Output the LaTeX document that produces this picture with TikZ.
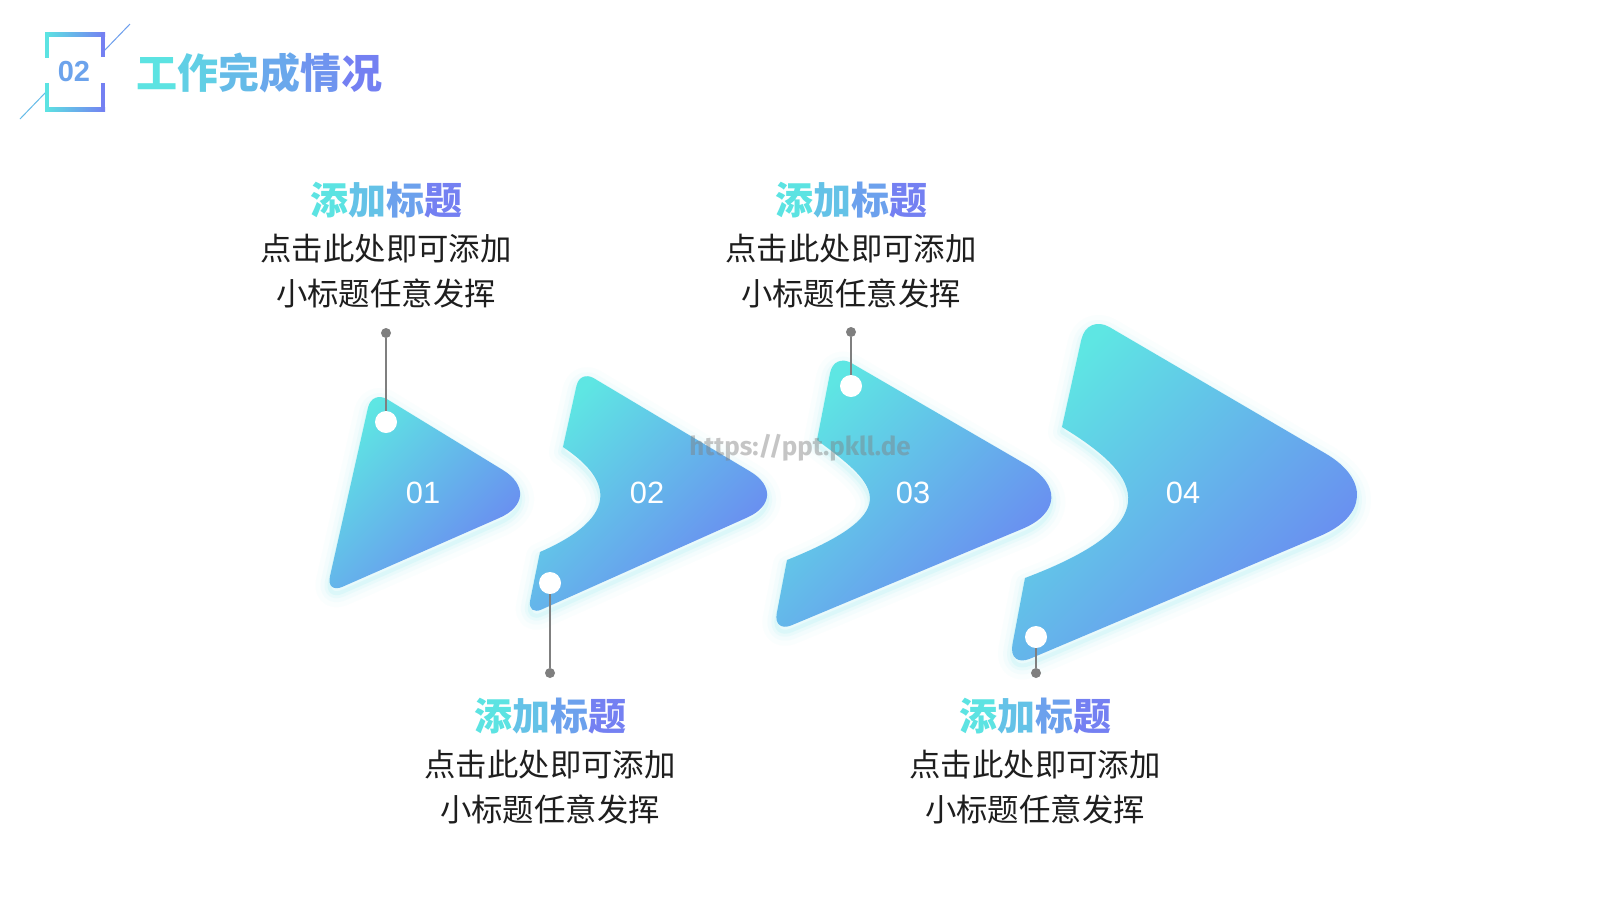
\documentclass[tikz,border=0pt]{standalone}
\usepackage{fontspec}
\setmainfont{Liberation Sans}
\newfontfamily\cjk{Noto Sans CJK SC}
\newfontfamily\wmfont{Fira Sans}
\definecolor{cy}{HTML}{5CE3E2}
\definecolor{pu}{HTML}{7480F2}
\definecolor{shA}{HTML}{5EE6E3}
\definecolor{shB}{HTML}{6C7DF3}
\definecolor{glowc}{HTML}{7EE8EC}
\definecolor{txt}{HTML}{1E1E1E}
\definecolor{conc}{HTML}{7F7F7F}
\colorlet{s1}{cy}
\colorlet{s2}{cy!67!pu}
\colorlet{s3}{cy!33!pu}
\colorlet{s4}{pu}
\colorlet{h1}{cy}
\colorlet{h2}{cy!80!pu}
\colorlet{h3}{cy!60!pu}
\colorlet{h4}{cy!40!pu}
\colorlet{h5}{cy!20!pu}
\colorlet{h6}{pu}
\newcommand\subttl{\textcolor{s1}{添}\textcolor{s2}{加}\textcolor{s3}{标}\textcolor{s4}{题}}
\def\pathA{(349,492) [rounded corners=9pt] -- (372,390) [rounded corners=26pt] -- (547,497) [rounded corners=9pt] -- (326,594) -- cycle}
\def\pathB{(571.5,408.5) [rounded corners=8pt] -- (580,370) [rounded corners=25pt] -- (793,497) [rounded corners=8pt] -- (527,616) [sharp corners] -- (540,552) .. controls (634,511) and (599,471) .. (563,447) -- cycle}
\def\pathC{(825.5,396.5) [rounded corners=10pt] -- (834,353) [rounded corners=36pt] -- (1089,501) [rounded corners=10pt] -- (773,633) [sharp corners] -- (787,560) .. controls (912,510) and (873,482) .. (817,440) -- cycle}
\def\pathD{(1074.5,370.5) [rounded corners=13pt] -- (1087,314) [rounded corners=46pt] -- (1405,500) [rounded corners=12pt] -- (1008,668) [sharp corners] -- (1025,578) .. controls (1179,520) and (1134,471) .. (1062,427) -- cycle}
\begin{document}
\begin{tikzpicture}[x=0.5pt,y=-0.5pt,
  shapefill/.style={top color=shA, bottom color=shB, shading angle=45},
  glow/.style={draw=glowc, line join=round},
  num/.style={font=\fontsize{15.4pt}{18pt}\selectfont, text=white},
  subt/.style={font=\cjk\bfseries\fontsize{19pt}{22pt}\selectfont},
  body/.style={font=\cjk\fontsize{15.7pt}{18pt}\selectfont, text=txt},
  gdot/.style={circle, fill=conc, inner sep=0pt, minimum size=5pt},
  wdot/.style={circle, fill=white, inner sep=0pt, minimum size=11pt},
  conn/.style={draw=conc, line width=0.7pt},
  bar/.style={left color=cy, right color=pu},
]
\useasboundingbox (0,0) rectangle (1600,900);
\fill[white] (0,0) rectangle (1600,900);

% header
\draw[cy!60!pu, line width=0.5pt] (20,119) -- (46,92);
\draw[cy!30!pu, line width=0.5pt] (104,51) -- (130,24);
\fill[bar] (45,32) rectangle (105,36);
\fill[bar] (45,107) rectangle (105,111);
\fill[cy] (45,32) rectangle (49,58);
\fill[cy] (45,83) rectangle (49,111);
\fill[pu] (101,32) rectangle (105,57);
\fill[pu] (101,83) rectangle (105,111);
\node[font=\bfseries\fontsize{14.5pt}{16pt}\selectfont, text=cy!35!pu] (hnum) at (74,72) {02};
\node[font=\cjk\bfseries\fontsize{20.5pt}{24pt}\selectfont] (htitle) at (259,73)
  {\textcolor{h1}{工}\textcolor{h2}{作}\textcolor{h3}{完}\textcolor{h4}{成}\textcolor{h5}{情}\textcolor{h6}{况}};

% glow
\begin{scope}[shift={(0,5)}]
\foreach \w/\o in {14/0.03, 9/0.05, 5/0.08, 2/0.12} {
  \draw[glow, line width=\w pt, draw opacity=\o] \pathA;
  \draw[glow, line width=\w pt, draw opacity=\o] \pathB;
  \draw[glow, line width=\w pt, draw opacity=\o] \pathC;
  \draw[glow, line width=\w pt, draw opacity=\o] \pathD;
}
\end{scope}

% shapes
\shade[shapefill] \pathA;
\shade[shapefill] \pathB;
\shade[shapefill] \pathC;
\shade[shapefill] \pathD;

\node[num] (n1) at (423,493) {01};
\node[num] (n2) at (647,493) {02};
\node[num] (n3) at (913,493) {03};
\node[num] (n4) at (1183,493) {04};

% watermark
\node[font=\wmfont\bfseries\fontsize{13pt}{15pt}\selectfont, text=gray, opacity=0.45] (wm) at (800,448) {https://ppt.pkll.de};

% connectors
\node[wdot] (w1) at (386,422) {};
\node[gdot] (g1) at (386,333) {};
\draw[conn] (g1) -- (w1);
\node[wdot] (w2) at (550,583) {};
\node[gdot] (g2) at (550,673) {};
\draw[conn] (g2) -- (w2);
\node[wdot] (w3) at (851,386) {};
\node[gdot] (g3) at (851,332) {};
\draw[conn] (g3) -- (w3);
\node[wdot] (w4) at (1036,637) {};
\node[gdot] (g4) at (1036,673) {};
\draw[conn] (g4) -- (w4);

% texts
\node[subt] (t1) at (386,200) {\subttl};
\node[body] (t1a) at (386,249) {点击此处即可添加};
\node[body] (t1b) at (386,293) {小标题任意发挥};
\node[subt] (t2) at (550,716) {\subttl};
\node[body] (t2a) at (550,765) {点击此处即可添加};
\node[body] (t2b) at (550,809) {小标题任意发挥};
\node[subt] (t3) at (851,200) {\subttl};
\node[body] (t3a) at (851,249) {点击此处即可添加};
\node[body] (t3b) at (851,293) {小标题任意发挥};
\node[subt] (t4) at (1035,716) {\subttl};
\node[body] (t4a) at (1035,765) {点击此处即可添加};
\node[body] (t4b) at (1035,809) {小标题任意发挥};
\end{tikzpicture}
\end{document}
